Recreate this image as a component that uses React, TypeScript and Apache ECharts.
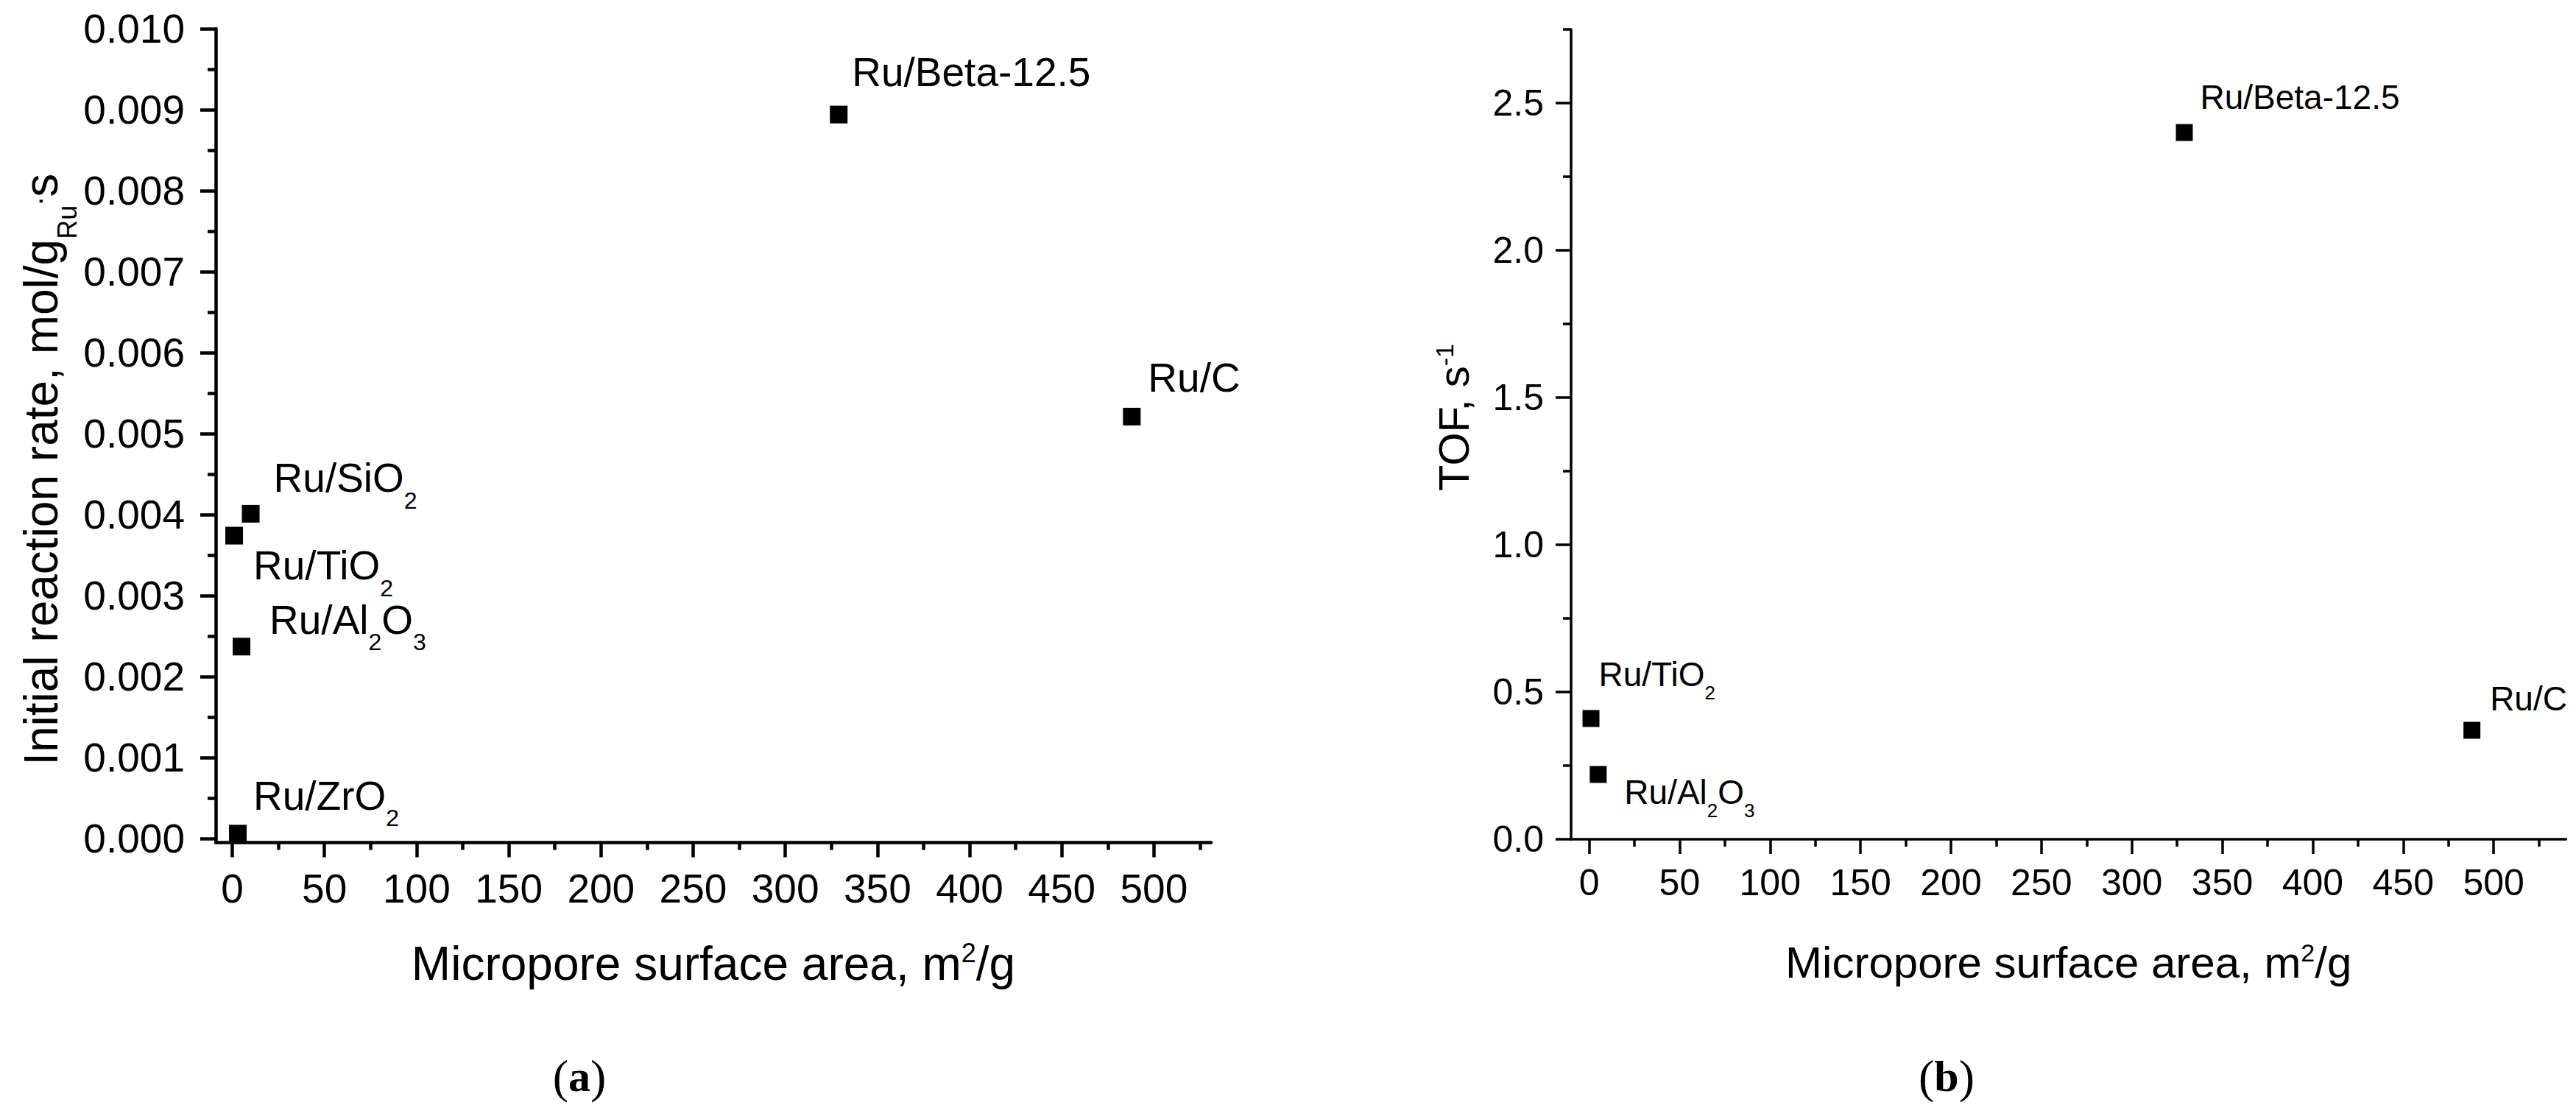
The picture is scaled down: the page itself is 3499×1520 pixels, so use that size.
import React, { useEffect, useRef } from "react";
import * as echarts from "echarts";

const W = 3499;
const H = 1520;
const FONT = "'Liberation Sans', Arial, sans-serif";
const SERIF = "'Liberation Serif', 'DejaVu Serif', serif";

// ---------- Panel (a): initial reaction rate ----------
const namesA = ["Ru/ZrO2", "Ru/TiO2", "Ru/SiO2", "Ru/Al2O3", "Ru/Beta-12.5", "Ru/C"];
const surfaceA = [3, 1, 10, 5, 329, 488];
const rateA = [0.00006, 0.00374, 0.00401, 0.00237, 0.00894, 0.00521];

// ---------- Panel (b): TOF ----------
const namesB = ["Ru/TiO2", "Ru/Al2O3", "Ru/Beta-12.5", "Ru/C"];
const surfaceB = [1, 5, 329, 488];
const tofB = [0.41, 0.22, 2.4, 0.37];

// ---------- tick values ----------
const xTicks = [0, 50, 100, 150, 200, 250, 300, 350, 400, 450, 500];
const xMinorTicks = [25, 75, 125, 175, 225, 275, 325, 375, 425, 475, 525];
const yTicksA = [0, 0.001, 0.002, 0.003, 0.004, 0.005, 0.006, 0.007, 0.008, 0.009, 0.01];
const yMinorTicksA = [0.0005, 0.0015, 0.0025, 0.0035, 0.0045, 0.0055, 0.0065, 0.0075, 0.0085, 0.0095];
const yTicksB = [0, 0.5, 1.0, 1.5, 2.0, 2.5];
const yMinorTicksB = [0.25, 0.75, 1.25, 1.75, 2.25, 2.75];

// label offsets (px, relative to the marker box)
const labelPosA: number[][] = [[33, -67], [38, 25], [43, -64], [50, -52], [30, -73], [34, -68]];
const labelPosB: number[][] = [[22, -72], [47, 12], [33, -60], [36, -55]];

function richName(name: string): string {
  const parts = name.split(/(?<=[A-Za-z])(\d+)/);
  return parts
    .map((p, i) => (p === "" ? "" : i % 2 ? `{s|${p}}` : `{m|${p}}`))
    .join("");
}

function labelRich(f: number, s: number, pad: number) {
  return {
    m: { fontSize: f, lineHeight: f, verticalAlign: "top", color: "#000", fontFamily: FONT },
    s: { fontSize: s, lineHeight: s, verticalAlign: "top", padding: [pad, 0, 0, 0], color: "#000", fontFamily: FONT },
  };
}

function axisPair(opts: any) {
  const {
    dim, gridIndex, min, max, major, minor, lw, majorLen, minorLen, fontSize, margin, fmt,
    name, nameGap, nameRich, namePadding,
  } = opts;
  const main: any = {
    type: "value",
    gridIndex,
    min,
    max,
    position: dim === "x" ? "bottom" : "left",
    axisLine: { show: true, onZero: false, lineStyle: { color: "#000", width: lw } },
    axisTick: { show: true, inside: false, length: majorLen, customValues: major, lineStyle: { color: "#000", width: lw } },
    axisLabel: { show: true, customValues: major, fontSize, margin, color: "#000", fontFamily: FONT, formatter: fmt },
    splitLine: { show: false },
    minorTick: { show: false },
    name,
    nameLocation: "middle",
    nameGap,
    nameTextStyle: { rich: nameRich, padding: namePadding, color: "#000", fontFamily: FONT },
  };
  if (dim === "y") main.nameRotate = 90;
  const minorAxis: any = {
    type: "value",
    gridIndex,
    min,
    max,
    position: dim === "x" ? "bottom" : "left",
    axisLine: { show: false, onZero: false },
    axisTick: { show: true, inside: false, length: minorLen, customValues: minor, lineStyle: { color: "#000", width: lw } },
    axisLabel: { show: false },
    splitLine: { show: false },
  };
  return [main, minorAxis];
}

export default function App() {
  const ref = useRef<HTMLDivElement>(null);

  useEffect(() => {
    if (!ref.current) return;
    document.body.style.margin = "0";
    const chart = echarts.init(ref.current, null, { renderer: "svg" });

    const xTitleRich = (f: number, sp: number) => ({
      t: { fontSize: f, lineHeight: f, verticalAlign: "bottom", color: "#000", fontFamily: FONT },
      p: { fontSize: sp, lineHeight: sp, verticalAlign: "top", color: "#000", fontFamily: FONT },
    });

    const [xA, xAm] = axisPair({
      dim: "x", gridIndex: 0, min: -9, max: 531, major: xTicks, minor: xMinorTicks,
      lw: 4.5, majorLen: 20, minorLen: 10, fontSize: 55, margin: 35,
      fmt: (v: number) => String(Math.round(v)),
      name: "{t|Micropore surface area, m}{p|2}{t|/g}", nameGap: 132,
      nameRich: xTitleRich(64, 36), namePadding: 0,
    });
    const [yA, yAm] = axisPair({
      dim: "y", gridIndex: 0, min: -0.00005, max: 0.01, major: yTicksA, minor: yMinorTicksA,
      lw: 4.5, majorLen: 21, minorLen: 11, fontSize: 55, margin: 42,
      fmt: (v: number) => v.toFixed(3),
      name: "{t|Initial reaction rate, mol/g}{s|Ru}{u|.}{t|s}", nameGap: 198,
      nameRich: {
        t: { fontSize: 64, lineHeight: 64, verticalAlign: "top", color: "#000", fontFamily: FONT },
        s: { fontSize: 36, lineHeight: 36, verticalAlign: "top", padding: [49, 0, 0, 0], color: "#000", fontFamily: FONT },
        u: { fontSize: 40, lineHeight: 40, verticalAlign: "top", color: "#000", fontFamily: FONT },
      },
      namePadding: [0, 92, 0, 0],
    });
    const [xB, xBm] = axisPair({
      dim: "x", gridIndex: 1, min: -10, max: 540, major: xTicks, minor: xMinorTicks,
      lw: 3.5, majorLen: 20, minorLen: 10, fontSize: 50, margin: 34,
      fmt: (v: number) => String(Math.round(v)),
      name: "{t|Micropore surface area, m}{p|2}{t|/g}", nameGap: 137,
      nameRich: xTitleRich(60, 34), namePadding: 0,
    });
    const [yB, yBm] = axisPair({
      dim: "y", gridIndex: 1, min: 0, max: 2.75, major: yTicksB, minor: yMinorTicksB,
      lw: 3.5, majorLen: 21, minorLen: 11, fontSize: 50, margin: 37,
      fmt: (v: number) => v.toFixed(1),
      name: "{t|TOF, s}{p|-1}", nameGap: 131,
      nameRich: xTitleRich(58, 34),
      namePadding: [0, 0, 0, 46],
    });

    const option: any = {
      animation: false,
      backgroundColor: "#fff",
      grid: [
        { left: 293, top: 39, width: 1352, height: 1105.5, containLabel: false },
        { left: 2134, top: 40, width: 1351.4, height: 1100, containLabel: false },
      ],
      xAxis: [xA, xAm, xB, xBm],
      yAxis: [yA, yAm, yB, yBm],
      series: [
        {
          type: "scatter",
          xAxisIndex: 0,
          yAxisIndex: 0,
          symbol: "rect",
          symbolSize: 24,
          itemStyle: { color: "#000", opacity: 1 },
          clip: false,
          label: {
            show: true,
            formatter: (p: any) => richName(p.name),
            rich: labelRich(55, 32, 42),
          },
          data: namesA.map((n, i) => ({
            name: n,
            value: [surfaceA[i], rateA[i]],
            label: { position: labelPosA[i] },
          })),
        },
        {
          type: "scatter",
          xAxisIndex: 2,
          yAxisIndex: 2,
          symbol: "rect",
          symbolSize: 23,
          itemStyle: { color: "#000", opacity: 1 },
          clip: false,
          label: {
            show: true,
            formatter: (p: any) => richName(p.name),
            rich: labelRich(46, 26, 35),
          },
          data: namesB.map((n, i) => ({
            name: n,
            value: [surfaceB[i], tofB[i]],
            label: { position: labelPosB[i] },
          })),
        },
      ],
      graphic: [
        {
          type: "text",
          x: 787,
          y: 1462,
          style: {
            text: "{p|(}{b|a}{p|)}",
            align: "center",
            verticalAlign: "middle",
            rich: {
              p: { fontSize: 64, fontFamily: SERIF, color: "#000" },
              b: { fontSize: 60, fontWeight: "bold", fontFamily: SERIF, color: "#000" },
            },
          },
        },
        {
          type: "text",
          x: 2644,
          y: 1462,
          style: {
            text: "{p|(}{b|b}{p|)}",
            align: "center",
            verticalAlign: "middle",
            rich: {
              p: { fontSize: 64, fontFamily: SERIF, color: "#000" },
              b: { fontSize: 60, fontWeight: "bold", fontFamily: SERIF, color: "#000" },
            },
          },
        },
      ],
    };

    chart.setOption(option);
    return () => chart.dispose();
  }, []);

  return (
    <div
      ref={ref}
      style={{ position: "fixed", left: 0, top: 0, width: W, height: H, background: "#fff" }}
    />
  );
}
